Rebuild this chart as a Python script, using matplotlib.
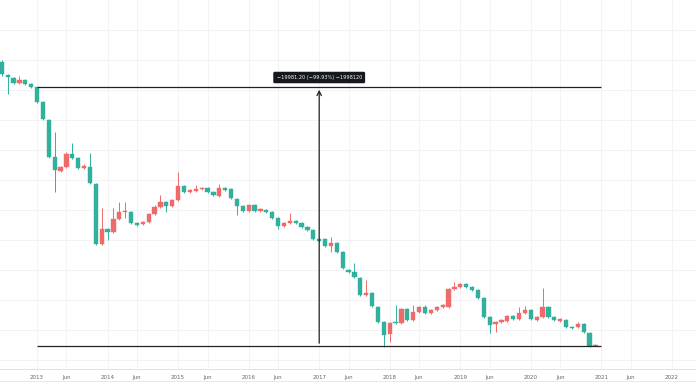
import matplotlib
matplotlib.use("Agg")
import matplotlib.pyplot as plt
import numpy as np

# monthly candles, Jul 2012 .. Dec 2020 (arbitrary price units)
start_offset = -6  # first candle is 6 months before Jan 2013
opens = [338, 325, 322, 317, 320, 316, 313, 298, 280, 243, 229, 233, 246, 242, 232, 233,
         216, 156, 171, 168, 181, 188, 188, 177, 176, 178, 186, 193, 198, 194, 200, 214,
         208, 209, 211, 212, 208, 204, 212, 211, 201, 194, 189, 195, 189, 190, 188, 182,
         174, 177, 179, 177, 173, 170, 161, 161, 154, 157, 148, 130, 128, 122, 105, 107,
         93, 78, 66, 78, 77, 91, 80, 88, 93, 87, 90, 93, 93, 111, 113, 116,
         113, 110, 102, 83, 76, 78, 79, 84, 81, 87, 90, 80, 83, 93, 83, 79,
         80, 73, 73, 76, 67, 54]
closes = [326, 323, 317, 320, 316, 313, 298, 281, 243, 230, 233, 246, 242, 232, 234, 217,
          156, 171, 168, 181, 188, 189, 177, 175, 178, 186, 193, 198, 194, 200, 214, 208,
          210, 211, 212, 208, 205, 212, 210, 202, 194, 189, 195, 189, 191, 188, 182, 174,
          177, 179, 177, 173, 170, 161, 159, 154, 157, 148, 132, 128, 123, 105, 107, 94,
          78, 65, 77, 77, 91, 80, 88, 93, 87, 90, 93, 95, 111, 113, 116, 113,
          110, 102, 83, 75, 78, 80, 84, 81, 87, 90, 81, 83, 93, 83, 80, 81,
          73, 72, 76, 68, 54, 55]
highs = [340, 326, 323, 324, 321, 317, 313, 299, 281, 268, 234, 248, 257, 243, 236, 247,
         217, 192, 172, 192, 198, 198, 189, 178, 179, 187, 195, 205, 199, 201, 228, 215,
         211, 215, 213, 213, 209, 216, 213, 212, 202, 195, 196, 196, 192, 191, 189, 183,
         178, 187, 180, 178, 174, 171, 162, 162, 163, 158, 149, 131, 137, 123, 120, 108,
         94, 79, 78, 95, 92, 92, 95, 94, 95, 91, 94, 96, 112, 118, 117, 117,
         114, 111, 103, 84, 79, 81, 85, 85, 93, 94, 91, 84, 112, 94, 84, 82,
         81, 74, 78, 77, 68, 56]
lows = [324, 306, 316, 316, 315, 312, 297, 280, 242, 208, 228, 232, 241, 231, 231, 216,
        155, 155, 160, 167, 180, 182, 176, 174, 175, 177, 185, 192, 188, 193, 199, 207,
        207, 208, 210, 207, 204, 203, 209, 201, 185, 188, 188, 188, 188, 187, 181, 171,
        173, 176, 176, 172, 169, 160, 158, 153, 148, 147, 131, 127, 122, 104, 104, 93,
        77, 53, 58, 76, 76, 79, 79, 87, 86, 86, 89, 92, 92, 110, 112, 112,
        109, 101, 82, 67, 68, 77, 78, 80, 80, 86, 80, 79, 82, 82, 79, 78,
        72, 71, 72, 67, 53, 54]

measure_start, measure_end = 0, 96     # Jan 2013 -> Jan 2021
measure_top, measure_bottom = 313, 54
measure_label = "\u221219981.20 (\u221299.93%) \u22121998120"

years = list(range(2013, 2023))

up_color = "#ef6b6b"
down_color = "#31b19d"

fig = plt.figure(figsize=(6.96, 3.85), dpi=100)
ax = fig.add_axes([0, 16 / 385, 1, 369 / 385])

x = np.arange(len(opens)) + start_offset
for xi, o, h, l, c in zip(x, opens, highs, lows, closes):
    col = up_color if c >= o else down_color
    ax.vlines(xi, l, h, color=col, lw=0.7, zorder=2)
    ax.bar(xi, max(abs(c - o), 0.8), bottom=min(o, c), width=0.72, color=col,
           edgecolor=col, lw=0.3, zorder=3)

# measurement tool
ax.hlines([measure_top, measure_bottom], measure_start, measure_end, color="#222222", lw=0.9, zorder=4)
mid = (measure_start + measure_end) / 2
ax.annotate("", xy=(mid, measure_top), xytext=(mid, measure_bottom),
            arrowprops=dict(arrowstyle="->", color="#222222", lw=0.9, mutation_scale=8), zorder=4)
ax.text(mid, measure_top + 9.5, measure_label, ha="center", va="center", fontsize=3.6, color="#f4f4f4",
        bbox=dict(boxstyle="round,pad=0.65,rounding_size=0.3", fc="#16181f", ec="none"), zorder=5)

# axes / grid
ticks, labels = [], []
for i, yr in enumerate(years):
    ticks.append(12 * i)
    labels.append(str(yr))
    if yr < years[-1]:
        ticks.append(12 * i + 5)
        labels.append("Jun")
ax.set_xticks(ticks)
ax.set_xticklabels(labels, fontsize=4.0, color="#666666")
ax.tick_params(axis="x", length=0, pad=4)
ax.set_yticks(np.arange(40, 400, 30))
ax.tick_params(axis="y", left=False, labelleft=False)
ax.grid(True, color="#f3f3f5", lw=0.7, zorder=0)
ax.set_xlim(-6.3, 112.1)
ax.set_ylim(31, 400)
for s in ["top", "left", "right"]:
    ax.spines[s].set_visible(False)
ax.spines["bottom"].set_color("#dddddd")
ax.spines["bottom"].set_linewidth(0.6)

fig.add_artist(plt.Line2D([0, 1], [4 / 385, 4 / 385], color="#e4e4e4", lw=0.6))

fig.savefig("out.png", dpi=100)
